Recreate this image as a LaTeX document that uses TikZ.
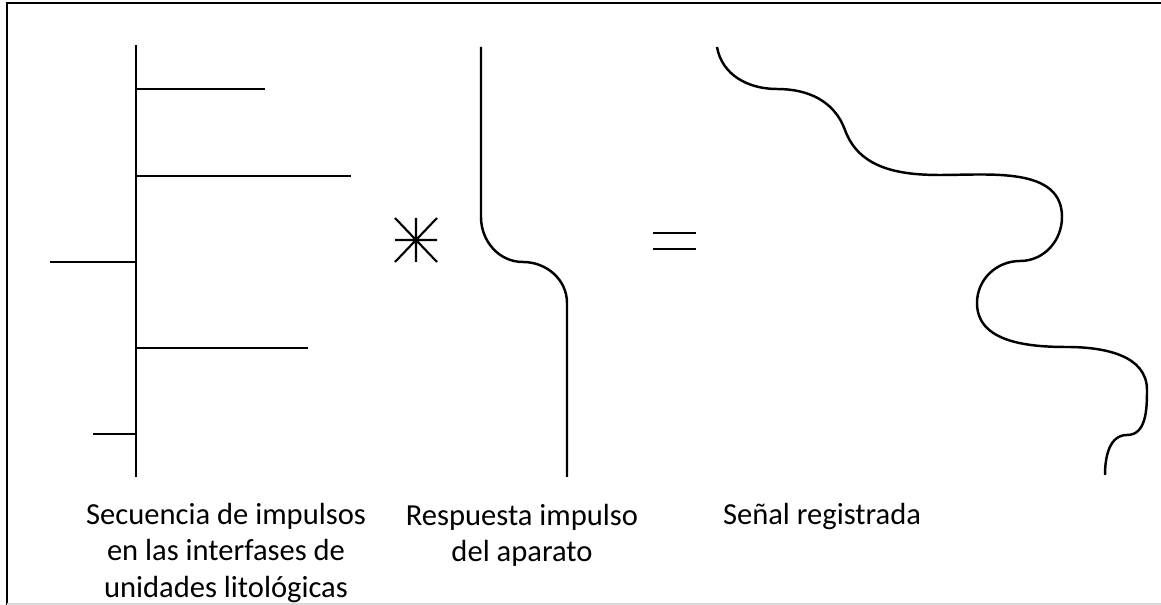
\documentclass[tikz,border=0pt]{standalone}
\usepackage{fontspec}
\setmainfont{Carlito}
\begin{document}
\begin{tikzpicture}[x=0.02cm,y=0.02cm,line width=1.4pt,
    lbl/.style={font=\fontsize{17.4}{20.6}\selectfont,align=center,inner sep=0pt}]
\useasboundingbox (0,0) rectangle (1161,605);
% frame
\draw[line width=1.1pt] (7,0) -- (7,602) -- (1161,602);
\draw[black!15,line width=0.6pt] (7,1) -- (1161,1);
% impulsos
\draw (136,560) -- (136,128);
\foreach \y/\x in {516/265,429/351,343/50,257/308,171/93}
  \draw (136,\y) -- (\x,\y);
% convolucion
\coordinate (C) at (416,365);
\draw[line width=1.2pt] (395,365) -- (437,365) (416,387) -- (416,343)
  (395,387) -- (437,343) (395,343) -- (437,387);
% respuesta
\draw (481,558) -- (481,388) to[out=-90,in=180] (523,343)
  to[out=0,in=90] (567,302) -- (567,128);
% igual
\draw[line width=1.2pt] (653,372) -- (696,372) (653,356) -- (696,356);
% senal
\draw (717,558) to[out=-80,in=180] (777,516) to[out=0,in=110] (845,475)
  to[out=-70,in=180] (940,430) to[out=0,in=90] (1062,388)
  to[out=-90,in=0] (1020,344) to[out=180,in=90] (977,302)
  to[out=-90,in=180] (1067,258) to[out=0,in=90] (1147,215)
  to[out=-90,in=0] (1127,170) to[out=180,in=90] (1105,130);
% textos
\node[lbl] (seq) at (226,52) {Secuencia de impulsos\\en las interfases de\\unidades litológicas};
\node[lbl] (resp) at (522,70) {Respuesta impulso\\del aparato};
\node[lbl] (sen) at (822,88) {Señal registrada};
\end{tikzpicture}
\end{document}
